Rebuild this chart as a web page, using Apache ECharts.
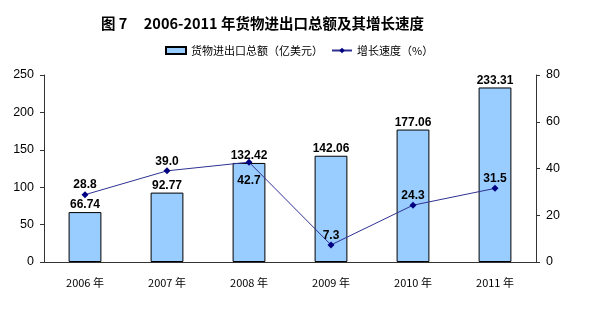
<!DOCTYPE html>
<html><head><meta charset="utf-8">
<script src="https://cdn.jsdelivr.net/npm/echarts@6/dist/echarts.min.js"></script>
<style>html,body{margin:0;padding:0;background:#fff}#c{width:595px;height:336px}</style>
</head><body><div id="c"></div>
<script>
const categories = ['2006 年','2007 年','2008 年','2009 年','2010 年','2011 年'];
const totalValues = [66.74, 92.77, 132.42, 142.06, 177.06, 233.31];
const growthValues = [28.8, 39.0, 42.7, 7.3, 24.3, 31.5];
const growthLabelBelow = [false, false, true, false, false, false];

const chart = echarts.init(document.getElementById('c'), null, {renderer:'canvas'});
const labelFont = {fontFamily:'Liberation Sans, Arial, sans-serif', fontWeight:'bold', fontSize:12, color:'#000'};
chart.setOption({
  animation:false,
  title:{text:'图 7     2006-2011 年货物进出口总额及其增长速度', left:96, top:11,
    textStyle:{fontFamily:'Noto Sans CJK SC', fontWeight:'bold', fontSize:14.5, color:'#000'}},
  legend:{top:40, left:160, itemGap:8, itemWidth:20, itemHeight:7,
    textStyle:{fontFamily:'Noto Sans CJK SC', fontSize:11, color:'#000'},
    data:[{name:'货物进出口总额（亿美元）', icon:'rect'}, {name:'增长速度（%）'}]},
  grid:{left:44, right:59, top:75, bottom:74},
  xAxis:{type:'category', data:categories,
    axisLine:{lineStyle:{color:'#333', width:1}},
    axisTick:{inside:true, length:4, lineStyle:{color:'#555'}},
    axisLabel:{fontFamily:'Noto Sans CJK SC', fontSize:11, color:'#000', margin:15}},
  yAxis:[
    {type:'value', min:0, max:250, interval:50,
     axisLine:{show:true, lineStyle:{color:'#333'}}, axisTick:{show:true, length:4, lineStyle:{color:'#333'}},
     splitLine:{show:false}, axisLabel:{fontFamily:'Liberation Sans, Arial', fontSize:12.5, color:'#000', margin:10}},
    {type:'value', min:0, max:80, interval:20, position:'right',
     axisLine:{show:true, lineStyle:{color:'#333'}}, axisTick:{show:true, length:4, lineStyle:{color:'#333'}},
     splitLine:{show:false}, axisLabel:{fontFamily:'Liberation Sans, Arial', fontSize:12.5, color:'#000', margin:10}}
  ],
  series:[
    {name:'货物进出口总额（亿美元）', type:'bar', data:totalValues, barWidth:'40%', yAxisIndex:0,
     itemStyle:{color:'#99CCFF', borderColor:'#000', borderWidth:1},
     label:{show:true, position:'top', distance:1, ...labelFont}},
    {name:'增长速度（%）', type:'line', yAxisIndex:1, z:5,
     data:growthValues.map((v,i)=>({value:v, label: growthLabelBelow[i] ? {position:'bottom', distance:9} : {position:'top', distance:0}})),
     symbol:'diamond', symbolSize:7,
     lineStyle:{color:'#2E3192', width:1}, itemStyle:{color:'#000080'},
     label:{show:true, formatter:p=>p.value.toFixed(1), ...labelFont}}
  ]
});
</script></body></html>
